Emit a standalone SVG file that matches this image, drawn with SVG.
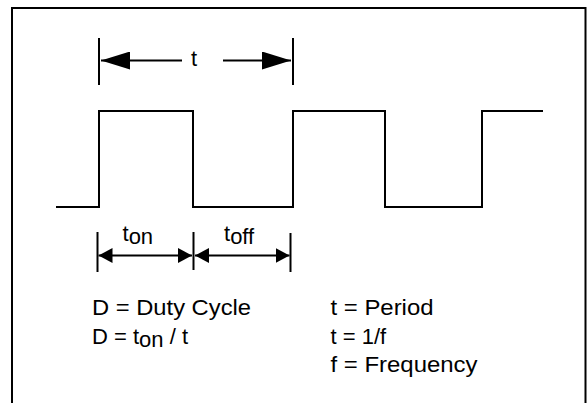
<svg xmlns="http://www.w3.org/2000/svg" width="588" height="403" viewBox="0 0 588 403">
  <style>
    .ln { stroke: #000; stroke-width: 2; fill: none; }
    .txt { font-family: "Liberation Sans", Arial, sans-serif; font-size: 22px; fill: #000; }
  </style>
  <defs>
    <marker id="bigArrow" viewBox="0 0 29 18" refX="29" refY="9" markerWidth="29" markerHeight="18" markerUnits="userSpaceOnUse" orient="auto-start-reverse">
      <path d="M0,0 L29,9 L0,18 z" fill="#000"/>
    </marker>
    <marker id="smallArrow" viewBox="0 0 14 15" refX="14" refY="7.5" markerWidth="14" markerHeight="15" markerUnits="userSpaceOnUse" orient="auto-start-reverse">
      <path d="M0,0 L14,7.5 L0,15 z" fill="#000"/>
    </marker>
  </defs>
  <rect width="588" height="403" fill="#fff"/>

  <g id="frame">
    <path class="ln" d="M12,403 V8 H585.5 V403"/>
  </g>

  <g id="waveform">
    <path class="ln" d="M56,207 H99 V111 H193 V207 H293 V111 H385 V207 H482 V111 H543"/>
  </g>

  <g id="connectors">
    <!-- period t -->
    <line class="ln" x1="99" y1="38" x2="99" y2="85"/>
    <line class="ln" x1="293" y1="38" x2="293" y2="85"/>
    <line class="ln" x1="101" y1="60.5" x2="182" y2="60.5" marker-start="url(#bigArrow)"/>
    <line class="ln" x1="223" y1="60.5" x2="291" y2="60.5" marker-end="url(#bigArrow)"/>
    <!-- ton / toff -->
    <line class="ln" x1="97.5" y1="232" x2="97.5" y2="272"/>
    <line class="ln" x1="193.5" y1="232" x2="193.5" y2="270"/>
    <line class="ln" x1="290.5" y1="233" x2="290.5" y2="272"/>
    <line class="ln" x1="98.5" y1="255.5" x2="192" y2="255.5" marker-start="url(#smallArrow)" marker-end="url(#smallArrow)"/>
    <line class="ln" x1="195" y1="255.5" x2="289.5" y2="255.5" marker-start="url(#smallArrow)" marker-end="url(#smallArrow)"/>
  </g>

  <g id="labels">
    <text class="txt" x="194" y="66" text-anchor="middle">t</text>
    <text class="txt" x="122.5" y="241">t<tspan dy="3">on</tspan></text>
    <text class="txt" x="224" y="241">t<tspan dy="3">off</tspan></text>
  </g>

  <g id="legend-duty">
    <text class="txt" x="92" y="315" textLength="159" lengthAdjust="spacingAndGlyphs">D = Duty Cycle</text>
    <text class="txt" x="92" y="343.5">D = t<tspan dy="3">on</tspan><tspan dy="-3"> / t</tspan></text>
  </g>

  <g id="legend-period">
    <text class="txt" x="330.5" y="315" textLength="103" lengthAdjust="spacingAndGlyphs">t = Period</text>
    <text class="txt" x="330.5" y="343.5">t = 1/f</text>
    <text class="txt" x="330.5" y="371.5" textLength="147" lengthAdjust="spacingAndGlyphs">f = Frequency</text>
  </g>
</svg>
